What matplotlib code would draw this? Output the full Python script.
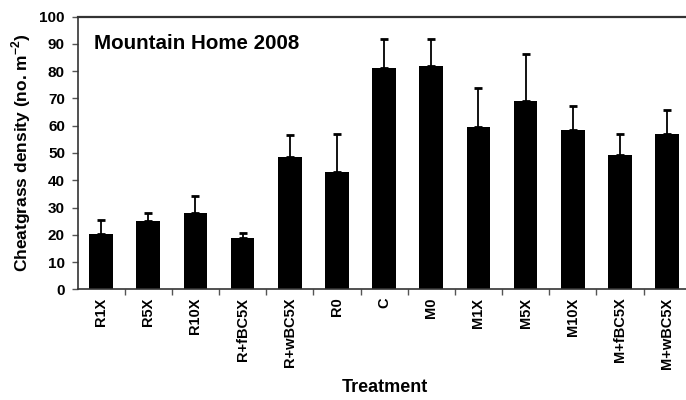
import numpy as np
import matplotlib
matplotlib.use('Agg')
import matplotlib.pyplot as plt

treatments = ['R1X', 'R5X', 'R10X', 'R+fBC5X', 'R+wBC5X', 'R0', 'C',
              'M0', 'M1X', 'M5X', 'M10X', 'M+fBC5X', 'M+wBC5X']
density = [20.4, 25.0, 28.0, 18.9, 48.5, 42.9, 81.1, 81.9, 59.5, 69.0, 58.6, 49.1, 56.9]
# upper error bar tips
err_top = [25.3, 28.1, 34.2, 20.8, 56.5, 57.1, 91.8, 92.0, 73.9, 86.2, 67.4, 57.0, 65.6]

plt.rcParams['font.family'] = ['Liberation Sans', 'DejaVu Sans']
plt.rcParams['font.weight'] = 'bold'
plt.rcParams['mathtext.fontset'] = 'custom'
plt.rcParams['mathtext.rm'] = 'Liberation Sans:bold'
plt.rcParams['mathtext.bf'] = 'Liberation Sans:bold'

fig = plt.figure(figsize=(6.86, 4.0), dpi=100)
ax = fig.add_axes([77.5 / 686, 1 - 289.3 / 400, 1 - 77.5 / 686, (289.3 - 16.7) / 400])

x = np.arange(len(treatments))
yerr = np.array(err_top) - np.array(density)
ax.bar(x, density, width=0.5, color='black', zorder=2)
ax.errorbar(x, density, yerr=[np.zeros_like(yerr), yerr], fmt='none',
            ecolor='black', elinewidth=1.3, capsize=3, capthick=2, zorder=1)

ax.set_xlim(-0.5, 12.4)
ax.set_ylim(0, 100)
ax.set_yticks(np.arange(0, 101, 10))
ax.set_xticks(x)
ax.set_xticklabels(treatments, rotation=90, fontsize=10.5, fontweight='bold')
ax.set_xticks(np.arange(0.5, 12.5, 1), minor=True)
ax.tick_params(axis='x', which='major', length=0, pad=6)
ax.tick_params(axis='x', which='minor', length=4, direction='out', width=1, color='#555555')
ax.tick_params(axis='y', length=4, width=1, labelsize=11, pad=5, color='#555555')
for lab in ax.get_yticklabels():
    lab.set_fontweight('bold')

ax.spines['right'].set_visible(False)
ax.spines['top'].set_linewidth(1.6)
ax.spines['left'].set_linewidth(1.2)
ax.spines['bottom'].set_linewidth(1.2)
for s in ax.spines.values():
    s.set_color('#333333')

ax.set_ylabel('Cheatgrass density (no. m$^{-2}$)', fontsize=12.5, fontweight='bold', labelpad=5)
ax.text(0.027, 0.90, 'Mountain Home 2008', transform=ax.transAxes,
        fontsize=14.8, fontweight='bold', va='center', ha='left')
fig.text(385 / 686, 1 - 387 / 400, 'Treatment', fontsize=13,
         family=['Liberation Sans Narrow', 'Liberation Sans'], fontweight='bold',
         ha='center', va='center')

plt.savefig('out.png', dpi=100)
